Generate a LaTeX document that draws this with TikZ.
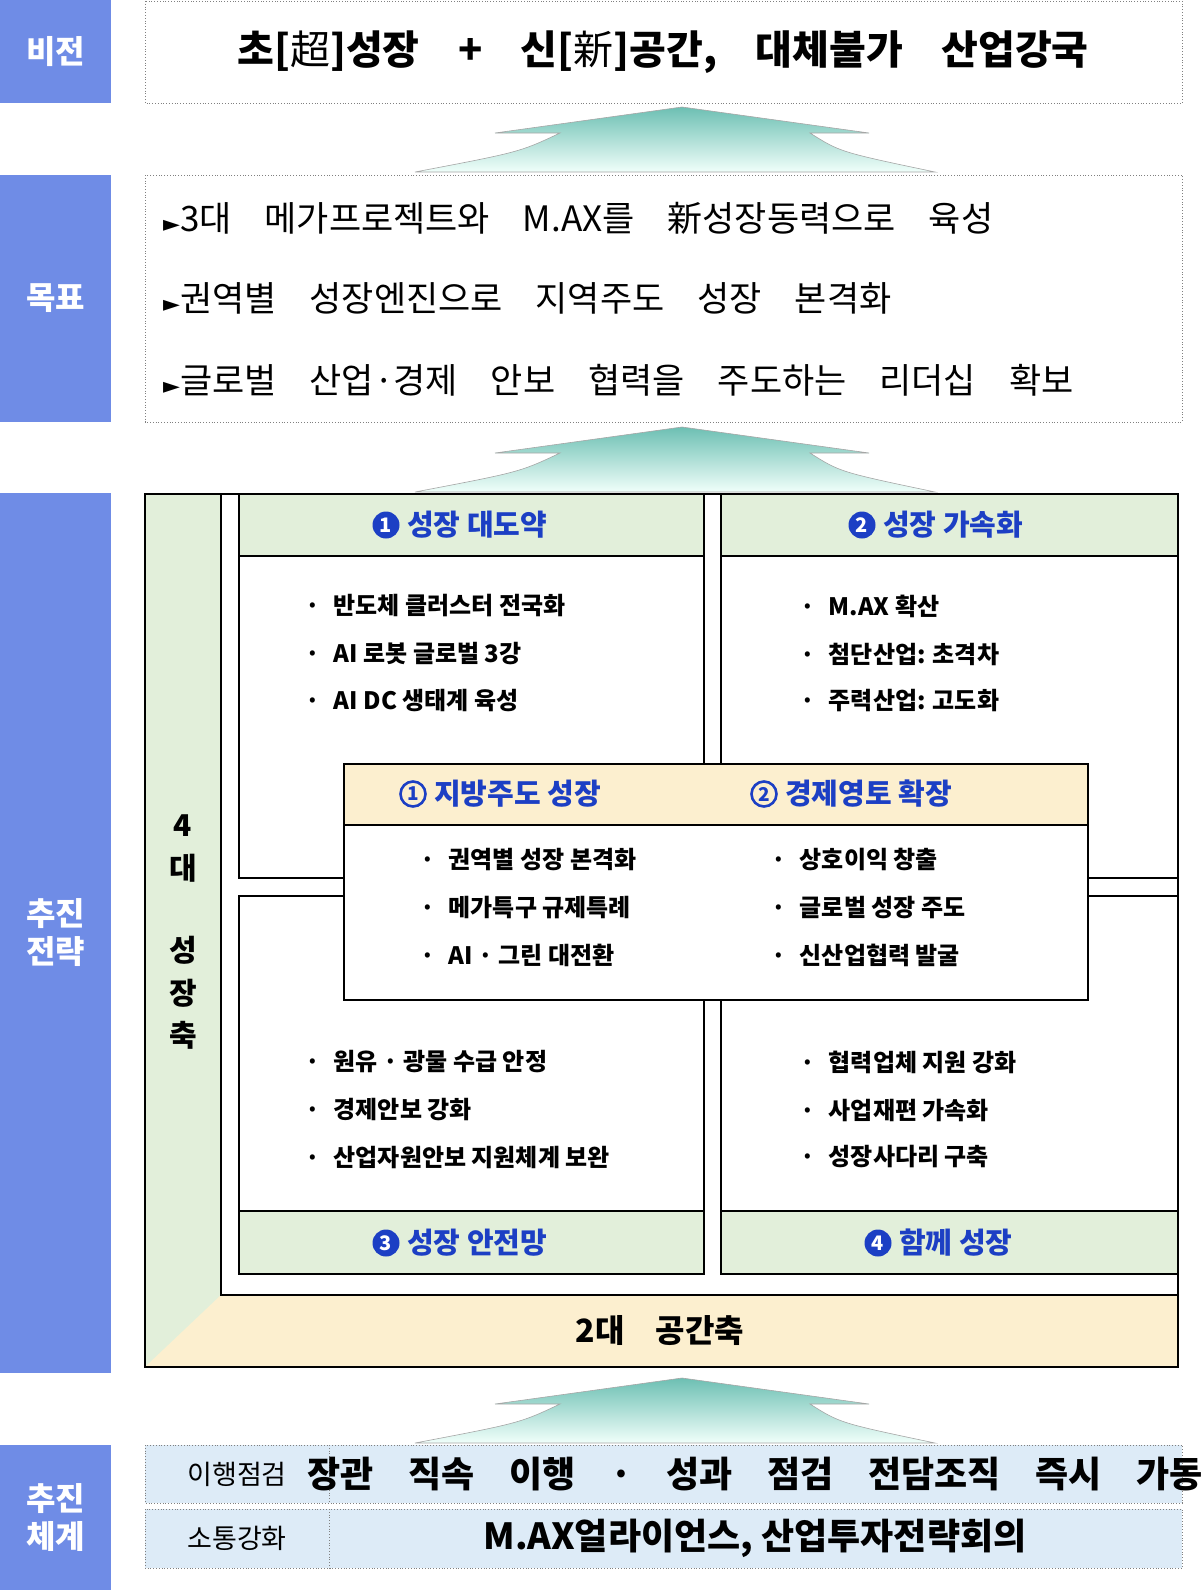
\documentclass[tikz,border=0pt]{standalone}
\usepackage{fontspec}
\setmainfont{Noto Sans CJK KR}
\newfontfamily\wide[WordSpace=2.6]{Noto Sans CJK KR}
\newfontfamily\wider[WordSpace=4.2]{Noto Sans CJK KR}
\newfontfamily\djv{DejaVu Sans}
\definecolor{lblue}{HTML}{6F8CE6}
\definecolor{hblue}{HTML}{1C3FC4}
\definecolor{lgreen}{HTML}{E2EFDA}
\definecolor{beige}{HTML}{FCEFCF}
\definecolor{tblue}{HTML}{DDEBF7}
\definecolor{teal1}{HTML}{6DBFB3}
\definecolor{teal2}{HTML}{F0FFFA}
\newcommand\uparr[1]{\shade[top color=teal1,bottom color=teal2,draw=gray!70,line width=0.6pt]
 (682,#1) -- (869,#1+26) -- (810,#1+26) .. controls (840,#1+45) .. (935,#1+65) -- (415,#1+65) .. controls (520,#1+45) .. (560,#1+26) -- (495,#1+26) -- cycle;}
\begin{document}
\begin{tikzpicture}[x=1pt,y=-1pt,
 lab/.style={fill=lblue,text=white,font=\fontsize{32}{38}\selectfont\bfseries,align=center},
 dbox/.style={draw=gray,dotted,line width=0.8pt},
 blk/.style={draw=black,line width=1.4pt},
 head/.style={anchor=west,font=\fontsize{29}{32}\selectfont\bfseries,text=hblue},
 cf/.style={circle,fill=hblue,text=white,minimum size=27pt,font=\fontsize{20}{20}\selectfont\bfseries},
 co/.style={circle,draw=hblue,line width=2.6pt,text=hblue,minimum size=25pt,font=\fontsize{19}{19}\selectfont\bfseries},
 bul/.style={anchor=west,font=\fontsize{24}{28}\selectfont\bfseries},
 goal/.style={anchor=west,font=\wider\fontsize{35}{38}\selectfont},
 every node/.style={inner sep=0pt}]
\useasboundingbox (0,0) rectangle (1200,1590);
% left labels
\fill[lblue] (0,0) rectangle (111,103) node[lab,midway] (l1) {비전};
\fill[lblue] (0,175) rectangle (111,422) node[lab,midway] (l2) {목표};
\fill[lblue] (0,493) rectangle (111,1373) node[lab,midway] (l3) {추진\\전략};
\fill[lblue] (0,1445) rectangle (111,1590) node[lab,midway] (l4) {추진\\체계};
% vision
\draw[dbox] (145,1) rectangle (1182,103);
\node[font=\wide\fontsize{40}{42}\selectfont\bfseries] (v) at (663,52) {초[{\mdseries 超}]성장 + 신[{\mdseries 新}]공간, 대체불가 산업강국};
\uparr{107}
% goals
\draw[dbox] (145,175) rectangle (1182,422);
\node[goal] (g1) at (163,218) {{\djv\fontsize{22}{22}\selectfont ►}3대 메가프로젝트와 M.AX를 新성장동력으로 육성};
\node[goal] (g2) at (163,298) {{\djv\fontsize{22}{22}\selectfont ►}권역별 성장엔진으로 지역주도 성장 본격화};
\node[goal] (g3) at (163,380) {{\djv\fontsize{22}{22}\selectfont ►}글로벌 산업·경제 안보 협력을 주도하는 리더십 확보};
\uparr{427}
% strategy
\draw[blk,fill=lgreen] (145,494) rectangle (1178,1367);
\fill[white] (221,494) rectangle (1178,1295);
\fill[beige] (145,1367) -- (221,1295) -- (1178,1295) -- (1178,1367) -- cycle;
\draw[blk] (145,494) rectangle (1178,1367);
\draw[blk] (221,494) -- (221,1295) -- (1178,1295);
\node[font=\wide\fontsize{32}{34}\selectfont\bfseries] (ax2) at (660,1331) {2대 공간축};
\foreach \t/\yy in {4/826,대/868,성/950,장/993,축/1035}
  \node[font=\fontsize{30}{32}\selectfont\bfseries] at (183,\yy) {\t};
% quadrants
\draw[blk,fill=white] (239,494) rectangle (704,878);
\draw[blk,fill=lgreen] (239,494) rectangle (704,556);
\draw[blk,fill=white] (721,494) rectangle (1178,878);
\draw[blk,fill=lgreen] (721,494) rectangle (1178,556);
\draw[blk,fill=white] (239,896) rectangle (704,1274);
\draw[blk,fill=lgreen] (239,1211) rectangle (704,1274);
\draw[blk,fill=white] (721,896) rectangle (1178,1274);
\draw[blk,fill=lgreen] (721,1211) rectangle (1178,1274);
\node[cf] (n1) at (386,525) {1}; \node[head] (q1) at (407,525) {성장 대도약};
\node[cf] (n2) at (862,525) {2}; \node[head] (q2) at (883,525) {성장 가속화};
\node[cf] (n3) at (386,1243) {3}; \node[head] (q3) at (407,1243) {성장 안전망};
\node[cf] (n4) at (878,1243) {4}; \node[head] (q4) at (899,1243) {함께 성장};
\foreach \xx/\yy/\t in {
 305/606/반도체 클러스터 전국화, 305/654/AI 로봇 글로벌 3강, 305/701/AI DC 생태계 육성,
 800/606/M.AX 확산, 800/654/첨단산업: 초격차, 800/701/주력산업: 고도화,
 305/1062/원유 · 광물 수급 안정, 305/1110/경제안보 강화, 305/1157/산업자원안보 지원체계 보완,
 800/1062/협력업체 지원 강화, 800/1110/사업재편 가속화, 800/1157/성장사다리 구축}
 \node[bul] at (\xx,\yy) {·\hspace{14pt}\t};
% center
\draw[blk,fill=white] (344,764) rectangle (1088,1000);
\draw[blk,fill=beige] (344,764) rectangle (1088,825);
\node[co] (m1) at (413,794) {1}; \node[head] (c1) at (434,794) {지방주도 성장};
\node[co] (m2) at (764,794) {2}; \node[head] (c2) at (785,794) {경제영토 확장};
\foreach \xx/\yy/\t in {
 420/860/권역별 성장 본격화, 420/908/메가특구 규제특례, 420/955/AI · 그린 대전환,
 771/860/상호이익 창출, 771/908/글로벌 성장 주도, 771/955/신산업협력 발굴}
 \node[bul] at (\xx,\yy) {·\hspace{14pt}\t};
\uparr{1378}
% bottom table
\fill[tblue] (145,1445) rectangle (1182,1503);
\fill[tblue] (145,1509) rectangle (1182,1568);
\draw[dbox] (145,1445) rectangle (1182,1503);
\draw[dbox] (145,1509) rectangle (1182,1568);
\draw[dbox] (329,1445) -- (329,1503) (329,1509) -- (329,1568);
\node[font=\fontsize{27}{30}\selectfont] (t1) at (237,1474) {이행점검};
\node[font=\fontsize{27}{30}\selectfont] (t2) at (237,1538) {소통강화};
\node[font=\wide\fontsize{36}{38}\selectfont\bfseries] (t3) at (755,1474) {장관 직속 이행 · 성과 점검 전담조직 즉시 가동};
\node[font=\fontsize{36}{38}\selectfont\bfseries] (t4) at (755,1538) {M.AX얼라이언스, 산업투자전략회의};
\end{tikzpicture}
\end{document}
